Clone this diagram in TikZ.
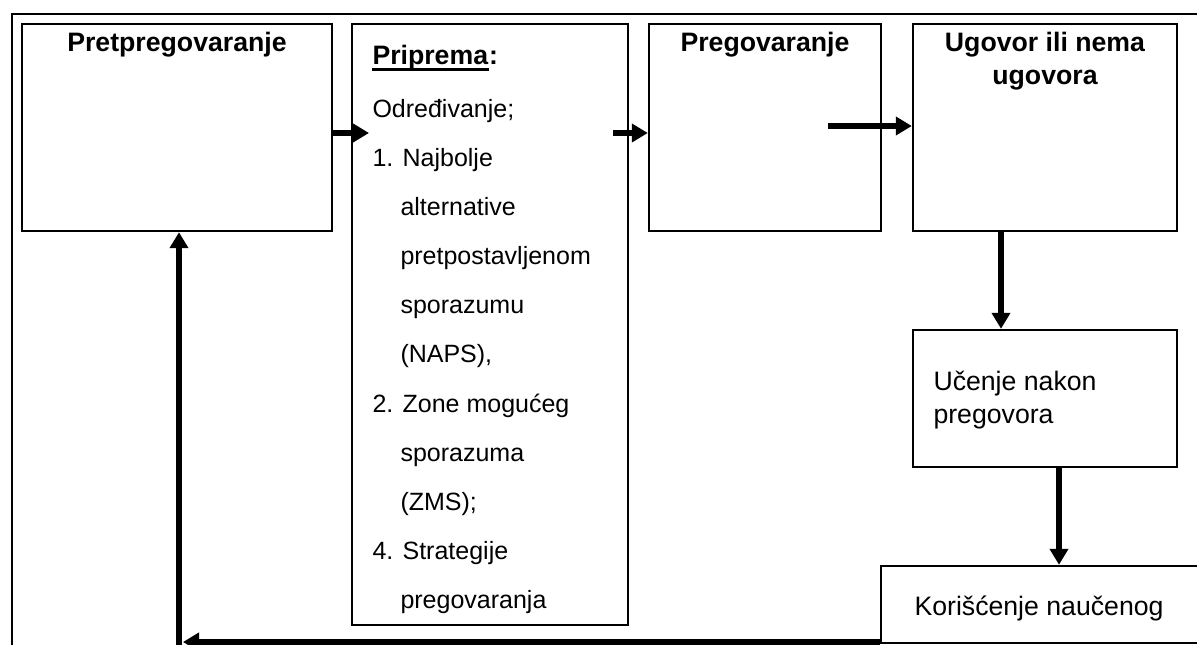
\documentclass[tikz,border=0pt]{standalone}
\usepackage{fontspec}
\setmainfont{Liberation Sans}
\usetikzlibrary{arrows.meta,fit,calc}

\tikzset{every picture/.style={line width=0.75pt}}
\tikzset{
  box/.style={draw, line width=1.8pt, inner sep=0pt},
  flow/.style={line width=4.5pt, -{Triangle[length=12pt,width=13.5pt]}},
  ttl/.style={inner sep=0pt, font=\fontsize{20}{24}\selectfont\bfseries},
  lbl/.style={inner sep=0pt, font=\fontsize{18.75}{22}\selectfont},
  lblb/.style={inner sep=0pt, font=\fontsize{20}{24}\selectfont},
}

\begin{document}
\begin{tikzpicture}[x=0.75pt,y=0.75pt,yscale=-1,xscale=1]
\useasboundingbox (0,0) rectangle (1197,645);

%Frame
\draw [line width=1.5pt] (1197,14) -- (12,14) -- (12,645) ;

%Shape: Rectangle
\node [box, fit={(22,24) (332,231)}] (pre) {};
%Shape: Rectangle
\node [box, fit={(352,24) (628,625)}] (prip) {};
%Shape: Rectangle
\node [box, fit={(649,24) (881,231)}] (preg) {};
%Shape: Rectangle
\node [box, fit={(913,24) (1177,231)}] (ugov) {};
%Shape: Rectangle
\node [box, fit={(913,330) (1177,467)}] (ucen) {};
%Shape: Rectangle
\node [box, fit={(881,566) (1215,643)}] (kor) {};

% Text Node
\node [ttl, anchor=base] (tpre) at (177,52) {Pretpregovaranje};
% Text Node
\node [ttl, anchor=base] (tpreg) at (765,52) {Pregovaranje};
% Text Node
\node [ttl, anchor=base] (tug1) at (1045,52) {Ugovor ili nema};
\node [ttl, anchor=base] (tug2) at (1045,85) {ugovora};

% Text Node
\node [ttl, anchor=base west] (tpr) at (372,65) {Priprema};
\node [ttl, anchor=base west] (tcol) at (tpr.base east) {:};
\draw [line width=2pt] ($(tpr.base west)+(0,4.5)$) -- ($(tpr.base east)+(0,4.5)$) ;
% Text Node
\node [lbl, anchor=base west] (l1) at (372,118) {Određivanje;};
\node [lbl, anchor=base west] (l2) at (372,167) {1. Najbolje};
\node [lbl, anchor=base west] (l3) at (400,216) {alternative};
\node [lbl, anchor=base west] (l4) at (400,265) {pretpostavljenom};
\node [lbl, anchor=base west] (l5) at (400,314) {sporazumu};
\node [lbl, anchor=base west] (l6) at (400,363) {(NAPS),};
\node [lbl, anchor=base west] (l7) at (372,412) {2. Zone mogućeg};
\node [lbl, anchor=base west] (l8) at (400,461) {sporazuma};
\node [lbl, anchor=base west] (l9) at (400,510) {(ZMS);};
\node [lbl, anchor=base west] (l10) at (372,559) {4. Strategije};
\node [lbl, anchor=base west] (l11) at (400,608) {pregovaranja};

% Text Node
\node [lblb, anchor=base west] (tuc1) at (933,391) {Učenje nakon};
\node [lblb, anchor=base west] (tuc2) at (933,424) {pregovora};
% Text Node
\node [lblb, anchor=base west] (tkor) at (914,615) {Korišćenje naučenog};

%Arrows
\coordinate (p1) at (369,133);
\coordinate (p2) at (613,133);
\coordinate (p3) at (828,126);
\coordinate (p4) at (1001,0);
\coordinate (p5) at (1059,0);
\coordinate (p6) at (183,642);
\coordinate (p7) at (179,645);
\draw [flow] (pre.east |- p1) -- (p1) ;
\draw [flow] (p2) -- (preg.west |- p2) ;
\draw [flow] (p3) -- (ugov.west |- p3) ;
\draw [flow] (ugov.south -| p4) -- (ucen.north -| p4) ;
\draw [flow] (ucen.south -| p5) -- (kor.north -| p5) ;
\draw [flow] (kor.west |- p6) -- (p6) ;
\draw [flow] (p7) -- (pre.south -| p7) ;

\end{tikzpicture}
\end{document}
